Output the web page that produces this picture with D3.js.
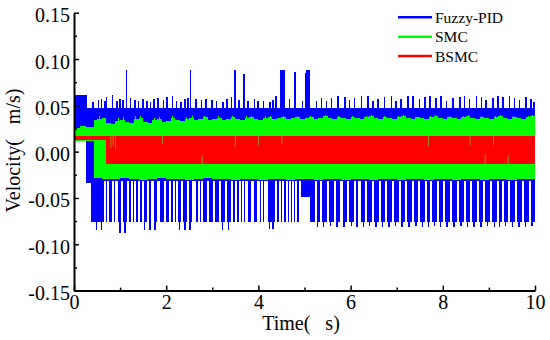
<!DOCTYPE html>
<html>
<head>
<meta charset="utf-8">
<script src="https://cdn.jsdelivr.net/npm/d3@7"></script>
<style>
  body { margin: 0; background: #fff; }
  svg { display: block; }
  svg text { font-family: "Liberation Serif", "Times New Roman", serif; }
</style>
</head>
<body>
<div id="chart"></div>
<script>
// ---- data ----
const xTicks = [0, 2, 4, 6, 8, 10];
const xMinor = [1, 3, 5, 7, 9];
const yTicks = [-0.15, -0.10, -0.05, 0.00, 0.05, 0.10, 0.15];
const yMinor = [-0.125, -0.075, -0.025, 0.025, 0.075, 0.125];

const seriesNames = ["Fuzzy-PID", "SMC", "BSMC"];
const seriesColors = ["#0000ff", "#00ff00", "#ff0000"];

// Fuzzy-PID envelope: base levels [t, v] and events [t, v, duration]
const fuzzyHiBase = [[0, 0.061], [0.29, 0.047], [10, 0.047]];
const fuzzyLoBase = [[0, 0.013], [0.26, -0.034], [0.36, -0.076], [10, -0.076]];

const fuzzyBumps = [
    [0.40, 0.054, 0.035], [0.51, 0.056, 0.035], [0.58, 0.057, 0.035], [0.65, 0.055, 0.035], [0.69, 0.059, 0.035],
    [0.82, 0.061, 0.035], [0.91, 0.055, 0.035], [0.98, 0.057, 0.035], [1.04, 0.056, 0.035], [1.12, 0.088, 0.035],
    [1.21, 0.058, 0.035], [1.30, 0.056, 0.035], [1.38, 0.055, 0.035], [1.48, 0.057, 0.035], [1.56, 0.055, 0.035],
    [1.64, 0.054, 0.035], [1.72, 0.057, 0.035], [1.81, 0.058, 0.035], [1.92, 0.056, 0.035], [2.00, 0.059, 0.035],
    [2.12, 0.060, 0.035], [2.21, 0.055, 0.035], [2.31, 0.054, 0.035], [2.39, 0.057, 0.035], [2.45, 0.058, 0.035],
    [2.51, 0.088, 0.035], [2.63, 0.057, 0.035], [2.75, 0.056, 0.035], [2.84, 0.057, 0.035], [2.97, 0.056, 0.035],
    [3.07, 0.055, 0.035], [3.22, 0.054, 0.035], [3.30, 0.057, 0.035], [3.40, 0.059, 0.035], [3.47, 0.088, 0.035],
    [3.56, 0.056, 0.035], [3.67, 0.084, 0.035], [3.76, 0.055, 0.035], [3.90, 0.057, 0.035], [3.98, 0.055, 0.035],
    [4.09, 0.055, 0.035], [4.23, 0.054, 0.035], [4.30, 0.056, 0.035], [4.37, 0.060, 0.035], [4.46, 0.088, 0.12],
    [4.66, 0.057, 0.035], [4.77, 0.086, 0.05], [4.94, 0.055, 0.035], [5.01, 0.085, 0.02], [5.04, 0.088, 0.09],
    [5.24, 0.055, 0.035], [5.35, 0.058, 0.035], [5.46, 0.055, 0.035], [5.57, 0.058, 0.035], [5.71, 0.060, 0.035],
    [5.86, 0.059, 0.035], [5.96, 0.056, 0.035], [6.07, 0.058, 0.035], [6.22, 0.060, 0.035], [6.36, 0.060, 0.035],
    [6.47, 0.055, 0.035], [6.58, 0.057, 0.035], [6.72, 0.059, 0.035], [6.87, 0.060, 0.035], [6.97, 0.055, 0.035],
    [7.08, 0.057, 0.035], [7.23, 0.060, 0.035], [7.34, 0.060, 0.035], [7.48, 0.057, 0.035], [7.59, 0.059, 0.035],
    [7.70, 0.060, 0.035], [7.84, 0.058, 0.035], [7.95, 0.060, 0.035], [8.06, 0.055, 0.035], [8.20, 0.058, 0.035],
    [8.35, 0.059, 0.035], [8.45, 0.060, 0.035], [8.56, 0.057, 0.035], [8.71, 0.060, 0.035], [8.82, 0.059, 0.035],
    [8.92, 0.056, 0.035], [9.07, 0.058, 0.035], [9.18, 0.060, 0.035], [9.29, 0.059, 0.035], [9.43, 0.060, 0.035],
    [9.54, 0.058, 0.035], [9.65, 0.056, 0.035], [9.79, 0.059, 0.035], [9.90, 0.057, 0.035], [9.96, 0.054, 0.035]
];

// white gaps in the lower blue band (signal only reaches the SMC band there)
const fuzzyGaps = [
    0.65, 0.72, 0.82, 0.90, 1.02, 1.15, 1.23, 1.30, 1.38, 1.47, 1.58, 1.68, 1.81, 1.95, 2.05, 2.14,
    2.22, 2.33, 2.45, 2.55, 2.60, 2.68, 2.75, 2.89, 3.02, 3.15, 3.28, 3.40, 3.50, 3.58, 3.65, 3.72,
    3.85, 3.98, 4.05, 4.12, 4.17, 4.35, 4.45, 4.52, 4.59, 4.66, 4.73, 4.80, 4.88,
    5.22, 5.34, 5.49, 5.63, 5.78, 5.92, 6.07, 6.17, 6.32, 6.46, 6.61, 6.75,
    6.90, 7.04, 7.18, 7.33, 7.47, 7.62, 7.72, 7.87, 8.01, 8.16, 8.30, 8.45, 8.59, 8.74, 8.88, 9.03,
    9.17, 9.28, 9.42, 9.57, 9.71, 9.86
];
const fuzzyDeep = [
    [0.47, -0.085, 0.03], [0.58, -0.085, 0.03], [0.98, -0.088, 0.03], [1.09, -0.088, 0.03],
    [1.52, -0.085, 0.03], [1.63, -0.085, 0.03], [1.74, -0.085, 0.03], [2.28, -0.085, 0.03],
    [2.39, -0.085, 0.03], [2.50, -0.085, 0.03], [3.21, -0.085, 0.03], [3.33, -0.085, 0.03],
    [4.23, -0.084, 0.03], [4.30, -0.084, 0.03], [4.93, -0.049, 0.18],
    [5.27, -0.081, 0.03], [5.40, -0.081, 0.03], [5.55, -0.080, 0.03], [5.69, -0.081, 0.03],
    [5.84, -0.081, 0.03], [6.00, -0.080, 0.03], [6.12, -0.081, 0.03], [6.26, -0.081, 0.03],
    [6.40, -0.080, 0.03], [6.54, -0.081, 0.03], [6.68, -0.081, 0.03], [6.82, -0.081, 0.03],
    [6.96, -0.080, 0.03], [7.10, -0.081, 0.03], [7.25, -0.081, 0.03], [7.40, -0.080, 0.03],
    [7.54, -0.081, 0.03], [7.67, -0.081, 0.03], [7.80, -0.080, 0.03], [7.94, -0.081, 0.03],
    [8.08, -0.081, 0.03], [8.23, -0.081, 0.03], [8.38, -0.080, 0.03], [8.52, -0.081, 0.03],
    [8.66, -0.081, 0.03], [8.81, -0.081, 0.03], [8.96, -0.080, 0.03], [9.10, -0.081, 0.03],
    [9.22, -0.081, 0.03], [9.35, -0.080, 0.03], [9.50, -0.081, 0.03], [9.64, -0.081, 0.03],
    [9.78, -0.081, 0.03], [9.92, -0.080, 0.03]
];

// SMC envelope
const smcTop = [
    [0, 0.024], [0.05, 0.026], [0.12, 0.028], [0.25, 0.027], [0.36, 0.027], [0.44, 0.034],
    [0.5, 0.035], [0.6, 0.036], [0.7, 0.031], [0.8, 0.030], [0.9, 0.033], [1.0, 0.034], [1.1, 0.032],
    [1.2, 0.031], [1.3, 0.035], [1.4, 0.036], [1.5, 0.032], [1.6, 0.031], [1.7, 0.034], [1.8, 0.035],
    [1.9, 0.032], [2.0, 0.033], [2.1, 0.036], [2.2, 0.034], [2.3, 0.033], [2.4, 0.035], [2.5, 0.036],
    [2.6, 0.034], [2.7, 0.035], [2.8, 0.037], [2.9, 0.034], [3.0, 0.035], [3.1, 0.036], [3.2, 0.034],
    [3.3, 0.035], [3.4, 0.037], [3.5, 0.035], [3.6, 0.034], [3.7, 0.036], [3.8, 0.037], [3.9, 0.035],
    [4.0, 0.034], [4.1, 0.036], [4.2, 0.037], [4.3, 0.035], [4.4, 0.036], [4.5, 0.037], [4.6, 0.035],
    [4.7, 0.036], [4.8, 0.037], [4.9, 0.035], [5.0, 0.036], [5.1, 0.037], [5.2, 0.035], [5.3, 0.036],
    [5.4, 0.038], [5.5, 0.036], [5.6, 0.035], [5.7, 0.037], [5.8, 0.036], [5.9, 0.035], [6.0, 0.037],
    [6.1, 0.036], [6.2, 0.035], [6.3, 0.037], [6.4, 0.038], [6.5, 0.036], [6.6, 0.035], [6.7, 0.037],
    [6.8, 0.036], [6.9, 0.035], [7.0, 0.037], [7.1, 0.038], [7.2, 0.036], [7.3, 0.035], [7.4, 0.037],
    [7.5, 0.036], [7.6, 0.035], [7.7, 0.037], [7.8, 0.038], [7.9, 0.036], [8.0, 0.035], [8.1, 0.037],
    [8.2, 0.036], [8.3, 0.035], [8.4, 0.037], [8.5, 0.038], [8.6, 0.036], [8.7, 0.035], [8.8, 0.037],
    [8.9, 0.036], [9.0, 0.035], [9.1, 0.037], [9.2, 0.038], [9.3, 0.036], [9.4, 0.035], [9.5, 0.037],
    [9.6, 0.036], [9.7, 0.035], [9.8, 0.037], [9.9, 0.038], [10.0, 0.036]
];
// small spikes on the SMC upper edge [t, v, duration]
const smcSpikes = [
    [0.55, 0.038, 0.02], [0.64, 0.037, 0.02], [0.95, 0.036, 0.02], [1.06, 0.037, 0.02], [1.33, 0.038, 0.02],
    [1.43, 0.038, 0.02], [1.74, 0.036, 0.02], [1.85, 0.037, 0.02], [2.13, 0.038, 0.02], [2.44, 0.037, 0.02],
    [2.56, 0.038, 0.02], [2.83, 0.039, 0.02], [3.13, 0.038, 0.02], [3.43, 0.039, 0.02], [3.73, 0.038, 0.02],
    [3.84, 0.039, 0.02], [4.15, 0.038, 0.02], [4.25, 0.039, 0.02], [4.54, 0.039, 0.02], [4.84, 0.039, 0.02],
    [5.13, 0.039, 0.02], [5.44, 0.040, 0.02], [5.73, 0.039, 0.02], [6.04, 0.039, 0.02], [6.33, 0.039, 0.02],
    [6.44, 0.040, 0.02], [6.73, 0.039, 0.02], [7.03, 0.039, 0.02], [7.14, 0.040, 0.02], [7.43, 0.039, 0.02],
    [7.73, 0.039, 0.02], [7.83, 0.040, 0.02], [8.13, 0.039, 0.02], [8.44, 0.039, 0.02], [8.54, 0.040, 0.02],
    [8.83, 0.039, 0.02], [9.13, 0.039, 0.02], [9.24, 0.040, 0.02], [9.53, 0.039, 0.02], [9.84, 0.039, 0.02],
    [9.93, 0.040, 0.02]
];
const smcBottom = [
    [0, 0.012], [0.43, -0.028], [0.6, -0.029], [0.8, -0.030], [1.0, -0.028], [1.2, -0.029], [1.4, -0.031],
    [1.6, -0.029], [1.8, -0.028], [2.0, -0.030], [2.2, -0.029], [2.4, -0.031], [2.6, -0.030], [2.8, -0.028],
    [3.0, -0.030], [3.2, -0.029], [3.4, -0.031], [3.6, -0.030], [3.8, -0.029], [4.0, -0.031], [4.2, -0.030],
    [4.4, -0.029], [4.6, -0.031], [4.8, -0.030], [5.0, -0.029], [5.2, -0.031], [5.4, -0.030], [5.6, -0.029],
    [5.8, -0.031], [6.0, -0.030], [6.2, -0.029], [6.4, -0.031], [6.6, -0.030], [6.8, -0.029], [7.0, -0.031],
    [7.2, -0.030], [7.4, -0.029], [7.6, -0.031], [7.8, -0.030], [8.0, -0.029], [8.2, -0.031], [8.4, -0.030],
    [8.6, -0.029], [8.8, -0.031], [9.0, -0.030], [9.2, -0.029], [9.4, -0.031], [9.6, -0.030], [9.8, -0.029],
    [10.0, -0.030]
];

// BSMC band [t, low, high] and the thin notches where it dips
const bsmcBand = [[0, 0.000, 0.0150], [0.02, 0.0125, 0.0167], [0.70, -0.0135, 0.0167], [10, -0.0135, 0.0167]];
const bsmcNotches = [
    [0.80, 0.0167, 0.004], [0.85, 0.0167, 0.006], [0.90, 0.0167, 0.003], [1.92, 0.0167, 0.008],
    [2.78, -0.0135, -0.004], [3.50, 0.0167, 0.005], [4.00, 0.0167, 0.007], [4.51, 0.0167, 0.008],
    [7.69, 0.0167, 0.006], [8.59, 0.0167, 0.007], [8.92, -0.0135, -0.003], [9.10, 0.0167, 0.007],
    [9.42, -0.0135, -0.004]
];

// ---- drawing ----
const W = 550, H = 340;
const plot = { left: 74, right: 535, top: 12.7, bottom: 290.6 };

const x = d3.scaleLinear().domain([0, 10]).range([plot.left, plot.right]);
const y = d3.scaleLinear().domain([-0.15, 0.15]).range([plot.bottom, plot.top]);

// base step levels with short excursions laid over them
function stepSeries(base, events) {
    const baseAt = t => {
        let v = base[0][1];
        base.forEach(d => { if (d[0] <= t) v = d[1]; });
        return v;
    };
    const pts = base.map(d => [d[0], d[1]]);
    events.forEach(e => {
        pts.push([e[0], e[1]]);
        pts.push([Math.min(10, e[0] + e[2]), baseAt(e[0] + e[2])]);
    });
    return pts.sort((a, b) => a[0] - b[0]);
}

const fuzzyHi = stepSeries(fuzzyHiBase, fuzzyBumps);
const fuzzyLo = stepSeries(fuzzyLoBase, fuzzyDeep.concat(fuzzyGaps.map(t => [t, -0.032, 0.045])));
const smcHi = stepSeries(smcTop, smcSpikes);

const svg = d3.select("#chart").append("svg")
    .attr("width", W)
    .attr("height", H);

svg.append("clipPath").attr("id", "plotClip")
    .append("rect")
    .attr("x", plot.left).attr("y", plot.top)
    .attr("width", plot.right - plot.left).attr("height", plot.bottom - plot.top);

const g = svg.append("g").attr("clip-path", "url(#plotClip)");

function bandTo(mid) {
    return d3.area()
        .x(d => x(d[0]))
        .y0(y(mid))
        .y1(d => y(d[1]))
        .curve(d3.curveStepAfter);
}

// Fuzzy-PID
g.append("path").datum(fuzzyHi)
    .attr("d", bandTo(0.02))
    .attr("fill", seriesColors[0]).attr("shape-rendering", "crispEdges");
g.append("path").datum(fuzzyLo)
    .attr("d", bandTo(0.02))
    .attr("fill", seriesColors[0]).attr("shape-rendering", "crispEdges");

// SMC
g.append("path").datum(smcHi)
    .attr("d", bandTo(0.015))
    .attr("fill", seriesColors[1]).attr("shape-rendering", "crispEdges");
g.append("path").datum(smcBottom)
    .attr("d", bandTo(0.015))
    .attr("fill", seriesColors[1]).attr("shape-rendering", "crispEdges");

// BSMC
g.append("path").datum(bsmcBand)
    .attr("d", d3.area()
        .x(d => x(d[0]))
        .y0(d => y(d[1]))
        .y1(d => y(d[2]))
        .curve(d3.curveStepAfter))
    .attr("fill", seriesColors[2]).attr("shape-rendering", "crispEdges");

g.selectAll("line.notch")
    .data(bsmcNotches)
    .enter()
    .append("line")
    .attr("class", "notch")
    .attr("x1", d => x(d[0])).attr("x2", d => x(d[0]))
    .attr("y1", d => y(d[1])).attr("y2", d => y(d[2]))
    .attr("stroke", "#a88a10")
    .attr("stroke-width", 1);

// axes
const fmt = d => d.toFixed(2);

const yAxis = svg.append("g")
    .attr("transform", `translate(${plot.left},0)`)
    .call(d3.axisLeft(y).tickValues(yTicks).tickFormat(fmt).tickSizeInner(-5).tickSizeOuter(0).tickPadding(4));
svg.append("g")
    .attr("transform", `translate(${plot.left},0)`)
    .call(d3.axisLeft(y).tickValues(yMinor).tickFormat("").tickSizeInner(-3).tickSizeOuter(0))
    .call(a => a.select(".domain").remove());

svg.append("g")
    .attr("transform", `translate(0,${plot.bottom})`)
    .call(d3.axisBottom(x).tickValues(xTicks).tickSizeInner(-5).tickSizeOuter(0).tickPadding(4));
svg.append("g")
    .attr("transform", `translate(0,${plot.bottom})`)
    .call(d3.axisBottom(x).tickValues(xMinor).tickFormat("").tickSizeInner(-3).tickSizeOuter(0))
    .call(a => a.select(".domain").remove());

svg.selectAll("g").attr("font-family", null);
svg.selectAll(".domain").attr("stroke", "#000").attr("stroke-width", 2);
svg.selectAll(".tick line").attr("stroke", "#000").attr("stroke-width", 1.5);
svg.selectAll(".tick text")
    .attr("font-size", 20)
    .style("font-family", "'Liberation Serif', serif")
    .attr("fill", "#000");
yAxis.selectAll(".tick text").attr("dy", "0.45em");

// axis titles
svg.append("text")
    .attr("text-anchor", "middle")
    .attr("x", 301)
    .attr("y", 330)
    .attr("font-size", 20)
    .style("white-space", "pre")
    .text("Time(   s)");

svg.append("text")
    .attr("text-anchor", "middle")
    .attr("transform", "rotate(-90)")
    .attr("x", -150.5)
    .attr("y", 20)
    .attr("font-size", 20)
    .style("white-space", "pre")
    .text("Velocity(   m/s)");

// legend
const legend = svg.append("g");
seriesNames.forEach((name, i) => {
    const ly = 17.3 + i * 19.4;
    legend.append("line")
        .attr("x1", 398).attr("x2", 432)
        .attr("y1", ly).attr("y2", ly)
        .attr("stroke", seriesColors[i])
        .attr("stroke-width", 2.5);
    legend.append("text")
        .attr("x", 435)
        .attr("y", ly + 5.5)
        .attr("font-size", 15.5)
        .text(name);
});
</script>
</body>
</html>
